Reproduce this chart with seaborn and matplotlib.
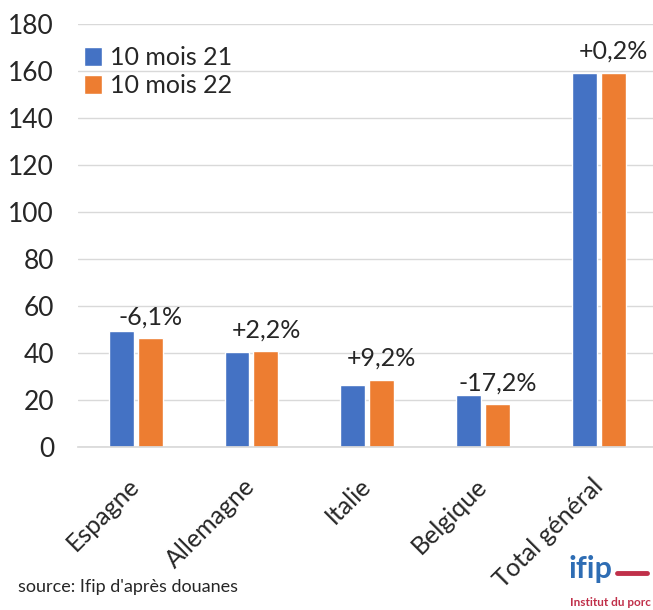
import pandas as pd
import numpy as np
import matplotlib
matplotlib.use('Agg')
import matplotlib.pyplot as plt
import seaborn as sns
from matplotlib.lines import Line2D

# données (milliers de t)
pays = ['Espagne', 'Allemagne', 'Italie', 'Belgique', 'Total général']
mois_21 = [49.6, 40.5, 26.5, 22.4, 159.1]
mois_22 = [46.4, 40.9, 28.9, 18.5, 159.5]
evolution = ['-6,1%', '+2,2%', '+9,2%', '-17,2%', '+0,2%']
series = ['10 mois 21', '10 mois 22']

df = pd.DataFrame({'pays': pays * 2,
                   'periode': [series[0]] * len(pays) + [series[1]] * len(pays),
                   'valeur': mois_21 + mois_22})

sns.set_theme(style='white')
plt.rcParams['font.family'] = ['Lato', 'DejaVu Sans']

fig = plt.figure(figsize=(6.53, 6.10), dpi=100)
ax = fig.add_axes([0.119, 0.2664, 0.887, 0.6937])

sns.barplot(data=df, x='pays', y='valeur', hue='periode', hue_order=series,
            palette=['#4472C4', '#ED7D31'], width=0.5, gap=0.14,
            saturation=1, ax=ax, errorbar=None)

# étiquettes d'évolution au-dessus des barres 22
ax.bar_label(ax.containers[1], labels=evolution, padding=7, fontsize=18, color='#262626')

ax.set_ylim(0, 180)
ax.set_yticks(np.arange(0, 181, 20))
ax.yaxis.grid(True, color='#D9D9D9', linewidth=1)
ax.set_axisbelow(True)
for s in ['top', 'right', 'left']:
    ax.spines[s].set_visible(False)
ax.spines['bottom'].set_color('#D9D9D9')
ax.set_xlabel('')
ax.set_ylabel('')
ax.tick_params(axis='y', length=0, pad=17, labelsize=19, labelcolor='#262626')
ax.tick_params(axis='x', length=0, pad=25, labelsize=18, labelcolor='#262626')
plt.setp(ax.get_xticklabels(), rotation=45, ha='right', va='center', rotation_mode='anchor')

ax.legend(loc='upper left', bbox_to_anchor=(-0.02, 0.99), frameon=False, fontsize=18,
          handlelength=0.75, handleheight=0.75, handletextpad=0.3, labelspacing=0.2,
          borderaxespad=0.3, labelcolor='#262626')

# source + logo
fig.text(0.027, 0.038, "source: Ifip d'après douanes", fontsize=13, color='#262626', va='center')
fig.text(0.871, 0.068, 'ifip', fontsize=22, fontweight='bold', color='#2E6DB4', va='center')
fig.add_artist(Line2D([0.945, 0.991], [0.061, 0.061], color='#C0304A', linewidth=3.5))
fig.text(0.873, 0.013, 'Institut du porc', fontsize=8.5, fontweight='bold', color='#C0304A', va='center')

fig.savefig('out.png', dpi=100)
plt.close('all')
